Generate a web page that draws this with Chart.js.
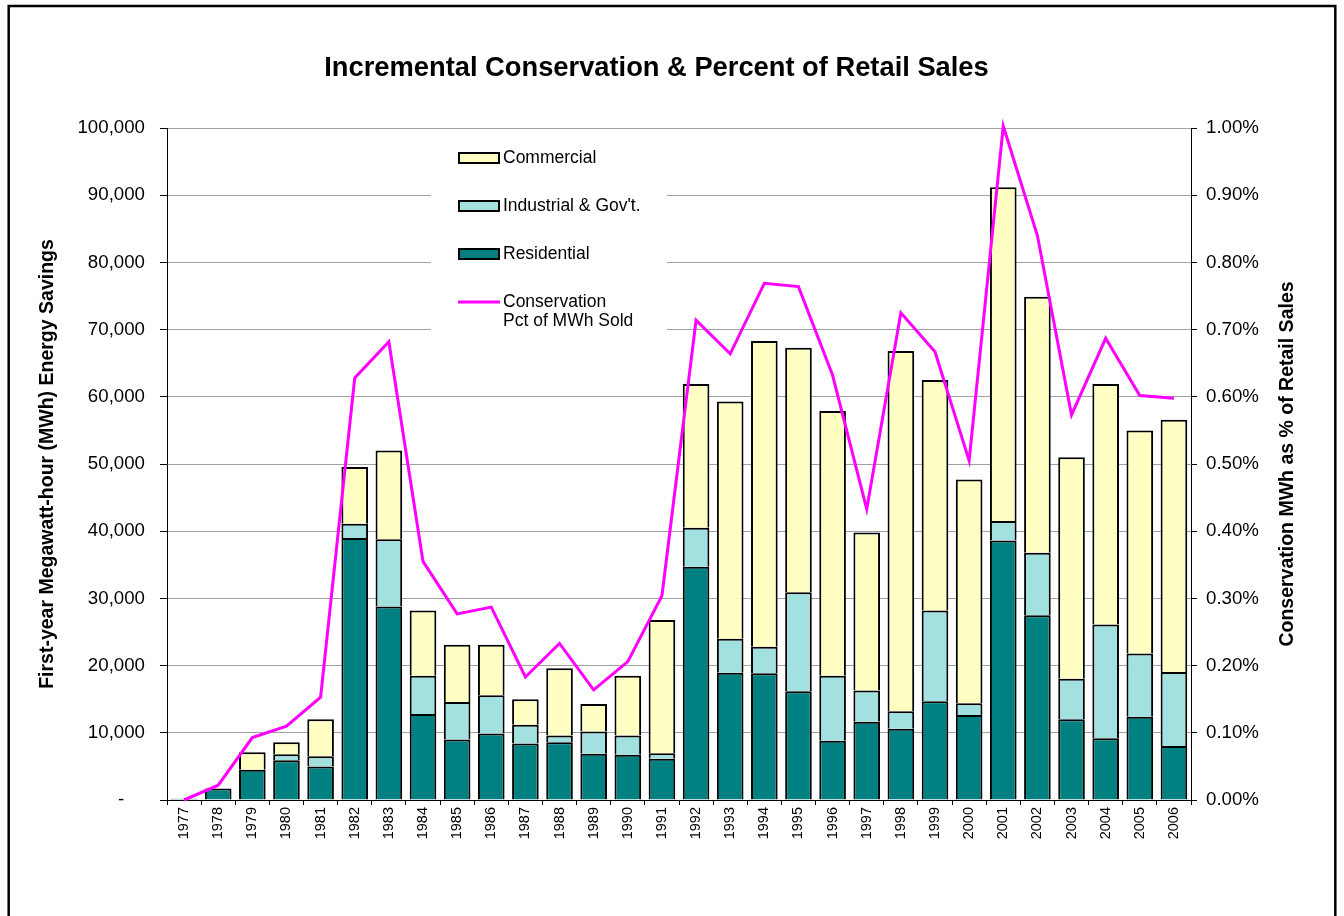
<!DOCTYPE html>
<html>
<head>
<meta charset="utf-8">
<title>Incremental Conservation &amp; Percent of Retail Sales</title>
<script src="https://cdn.jsdelivr.net/npm/chart.js@4.4.1/dist/chart.umd.min.js"></script>
<style>
  html, body { margin: 0; padding: 0; background: #fff; }
  #wrap { width: 1344px; height: 916px; }
</style>
</head>
<body>
<div id="wrap"><canvas id="savingsChart" width="1344" height="916"></canvas></div>
<script>
// First-year MWh savings by sector, 1977-2006
const years = ['1977', '1978', '1979', '1980', '1981', '1982', '1983', '1984', '1985', '1986',
               '1987', '1988', '1989', '1990', '1991', '1992', '1993', '1994', '1995', '1996',
               '1997', '1998', '1999', '2000', '2001', '2002', '2003', '2004', '2005', '2006'];

const residential = [200, 1700, 4500, 5900, 5000, 39000, 28800, 12800, 9000, 9900,
                     8400, 8600, 6900, 6750, 6150, 34700, 18950, 18850, 16200, 8800,
                     11650, 10600, 14700, 12650, 38600, 27500, 12000, 9200, 12400, 8050];

const industrial = [0, 0, 0, 900, 1500, 2100, 10000, 5700, 5600, 5700,
                    2800, 1000, 3300, 2850, 800, 5800, 5050, 3950, 14700, 9700,
                    4650, 2600, 13500, 1750, 2900, 9300, 6050, 16900, 9400, 11000];

const commercial = [0, 0, 2600, 1800, 5500, 8450, 13200, 9700, 8500, 7500,
                    3800, 10000, 4100, 8900, 19850, 21400, 35300, 45500, 36400, 39400,
                    23500, 53600, 34300, 33300, 49700, 38100, 32950, 35800, 33200, 37550];

// conservation as percent of MWh sold
const pctOfSales = [0.000, 0.022, 0.093, 0.110, 0.153, 0.628, 0.682, 0.355, 0.277, 0.287,
                    0.183, 0.233, 0.164, 0.206, 0.304, 0.714, 0.664, 0.769, 0.764, 0.632,
                    0.433, 0.725, 0.667, 0.505, 1.003, 0.840, 0.573, 0.687, 0.602, 0.598];

const chartTitle = 'Incremental Conservation & Percent of Retail Sales';
const leftAxisTitle = 'First-year Megawatt-hour (MWh) Energy Savings';
const rightAxisTitle = 'Conservation MWh as % of Retail Sales';

const FONT = '"Liberation Sans", Arial, sans-serif';
Chart.defaults.font.family = FONT;
Chart.defaults.color = '#000';

// legend sits inside the plot on a white panel, drawn over the gridlines
const insetLegend = {
    id: 'insetLegend',
    beforeDatasetsDraw(chart) {
        const ctx = chart.ctx;
        const ds = chart.data.datasets;
        const rows = [ds[2], ds[1], ds[0], ds[3]];
        const rowY = [158, 206, 254, 302];

        ctx.save();
        ctx.fillStyle = '#fff';
        ctx.fillRect(431, 135, 236, 212);
        ctx.font = '17.5px ' + FONT;
        ctx.textBaseline = 'middle';
        ctx.textAlign = 'left';

        rows.forEach((d, i) => {
            const y = rowY[i];
            if (d.type === 'line') {
                ctx.strokeStyle = d.borderColor;
                ctx.lineWidth = 3;
                ctx.beginPath();
                ctx.moveTo(458, y);
                ctx.lineTo(500, y);
                ctx.stroke();
            } else {
                ctx.fillStyle = d.backgroundColor;
                ctx.fillRect(459, y - 5, 40, 10);
                ctx.strokeStyle = '#000';
                ctx.lineWidth = 2;
                ctx.strokeRect(459, y - 5, 40, 10);
            }
            ctx.fillStyle = '#000';
            d.label.split('\n').forEach((line, k) => {
                ctx.fillText(line, 503, y + k * 19.5);
            });
        });
        ctx.restore();
    }
};

// main title, right-hand axis title (reads bottom-to-top like the left one) and the outer frame
const titlesAndFrame = {
    id: 'titlesAndFrame',
    afterDraw(chart) {
        const ctx = chart.ctx;
        ctx.save();
        ctx.fillStyle = '#000';
        ctx.textAlign = 'center';
        ctx.textBaseline = 'middle';
        ctx.font = 'bold 27.3px ' + FONT;
        ctx.fillText(chartTitle, 656.5, 68);

        ctx.font = 'bold 19.5px ' + FONT;
        ctx.translate(1288, 464);
        ctx.rotate(-Math.PI / 2);
        ctx.fillText(rightAxisTitle, 0, 0);
        ctx.restore();

        ctx.save();
        ctx.strokeStyle = '#000';
        ctx.lineWidth = 2.5;
        ctx.strokeRect(8.7, 6, 1326.6, 1000);
        ctx.restore();
    }
};

const ctx = document.getElementById('savingsChart').getContext('2d');

new Chart(ctx, {
    type: 'bar',
    data: {
        labels: years,
        datasets: [
            {
                label: 'Residential',
                data: residential,
                backgroundColor: '#008080',
                borderColor: '#000',
                borderWidth: 2,
                order: 1
            },
            {
                label: "Industrial & Gov't.",
                data: industrial,
                backgroundColor: '#a3e0e0',
                borderColor: '#000',
                borderWidth: 2,
                order: 1
            },
            {
                label: 'Commercial',
                data: commercial,
                backgroundColor: '#ffffc4',
                borderColor: '#000',
                borderWidth: 2,
                order: 1
            },
            {
                type: 'line',
                label: 'Conservation\nPct of MWh Sold',
                data: pctOfSales,
                yAxisID: 'y1',
                borderColor: '#ff00ff',
                backgroundColor: '#ff00ff',
                borderWidth: 3,
                pointRadius: 0,
                tension: 0,
                clip: false,
                order: 0
            }
        ]
    },
    options: {
        responsive: false,
        animation: false,
        devicePixelRatio: 1,
        barPercentage: 0.78,
        categoryPercentage: 1.0,
        layout: { padding: { left: 36, right: 47, top: 128, bottom: 0 } },
        plugins: {
            legend: { display: false },
            tooltip: { enabled: false },
            title: { display: false }
        },
        scales: {
            x: {
                stacked: true,
                ticks: {
                    minRotation: 90,
                    maxRotation: 90,
                    autoSkip: false,
                    padding: 2,
                    font: { size: 14.5 }
                },
                grid: { drawOnChartArea: false, offset: true, tickLength: 5, tickColor: '#000' },
                border: { color: '#000', width: 1 },
                afterFit(scale) { scale.height = 116; }
            },
            y: {
                stacked: true,
                min: 0,
                max: 100000,
                ticks: {
                    stepSize: 10000,
                    padding: 15,
                    font: { size: 18.7 },
                    // accounting style: zero shows as a dash set in from the right
                    callback: v => v === 0 ? '-    ' : v.toLocaleString('en-US')
                },
                grid: { color: '#a0a0a0', lineWidth: 1, tickLength: 7, tickColor: '#000' },
                border: { color: '#000', width: 1 },
                title: {
                    display: true,
                    text: leftAxisTitle,
                    font: { size: 19.5, weight: 'bold' },
                    color: '#000',
                    padding: 0
                },
                afterFit(scale) { scale.width = 131; }
            },
            y1: {
                position: 'right',
                min: 0,
                max: 1,
                ticks: {
                    stepSize: 0.1,
                    padding: 9,
                    font: { size: 18.7 },
                    callback: v => v.toFixed(2) + '%'
                },
                grid: { drawOnChartArea: false, tickLength: 6, tickColor: '#000' },
                border: { color: '#000', width: 1 },
                afterFit(scale) { scale.width = 106; }
            }
        }
    },
    plugins: [insetLegend, titlesAndFrame]
});
</script>
</body>
</html>
